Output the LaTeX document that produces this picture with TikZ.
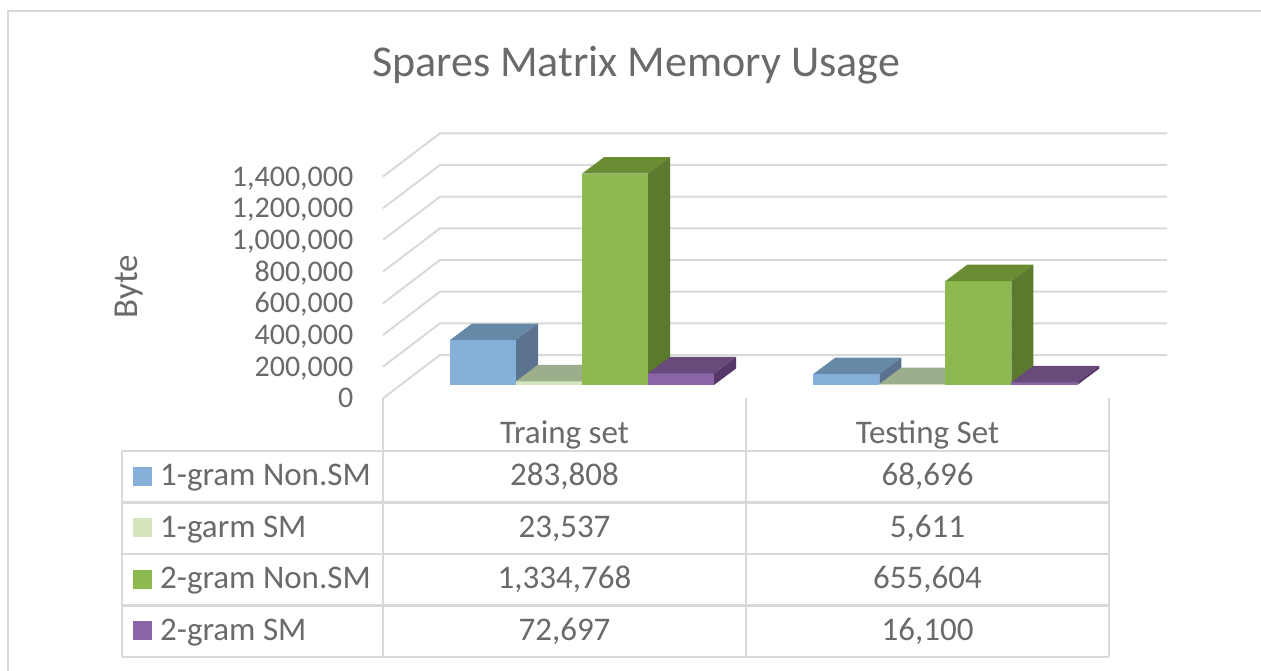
\documentclass[tikz,border=0pt]{standalone}
\usepackage{fontspec}
\setmainfont{Carlito}
\definecolor{txt}{HTML}{6A6A6A}
\definecolor{rule}{HTML}{D9D9D9}
\definecolor{bluF}{HTML}{84B0DA}\definecolor{bluT}{HTML}{6589A6}\definecolor{bluS}{HTML}{5B7290}
\definecolor{lgrF}{HTML}{D5E6BF}\definecolor{lgrT}{HTML}{9DAE8C}\definecolor{lgrS}{HTML}{8A9A7A}
\definecolor{grnF}{HTML}{8DBA50}\definecolor{grnT}{HTML}{6A8D34}\definecolor{grnS}{HTML}{5B7A2D}
\definecolor{purF}{HTML}{8A64A5}\definecolor{purT}{HTML}{684A7B}\definecolor{purS}{HTML}{553869}
% 3-D column: #1 left x of front face, #2 value in thousands, #3 colour prefix
\newcommand{\colbar}[3]{%
  \pgfmathsetmacro\hh{#2*0.15835}%
  \pgfmathsetmacro\yt{385-\hh}%
  \fill[#3F] (#1,385) rectangle (#1+66,\yt);
  \fill[#3T] (#1,\yt) -- (#1+66,\yt) -- (#1+88,\yt-16.5) -- (#1+22,\yt-16.5) -- cycle;
  \fill[#3S] (#1+66,385) -- (#1+66,\yt) -- (#1+88,\yt-16.5) -- (#1+88,368.5) -- cycle;
}
\begin{document}
\begin{tikzpicture}[x=1pt,y=-1pt,
  frameline/.style={draw=rule,line width=2pt},
  gridline/.style={draw=rule,line width=2pt},
  tabline/.style={draw=rule,line width=2.4pt},
  titletext/.style={text=txt,font=\fontsize{44}{50}\selectfont,inner sep=0pt},
  ticktext/.style={text=txt,font=\fontsize{30}{34}\selectfont,inner sep=0pt,anchor=base east},
  celltext/.style={text=txt,font=\fontsize{33}{38}\selectfont,inner sep=0pt,anchor=base},
  rowtext/.style={text=txt,font=\fontsize{33}{38}\selectfont,inner sep=0pt,anchor=base west},
  keybox/.style={minimum size=19pt,inner sep=0pt,outer sep=0pt}]
\useasboundingbox (0,0) rectangle (1261,671);
\fill[white] (0,0) rectangle (1261,671);
% chart frame
\draw[frameline] (8,671) -- (8,11) -- (1261,11);
% title
\node[titletext,anchor=base] (title) at (636,77) {Spares Matrix Memory Usage};
% side wall and back wall gridlines
\foreach \k in {0,...,7} {
  \pgfmathsetmacro\yf{398.3-\k*31.67}
  \draw[gridline] (383,\yf) -- (440,\yf-43.3) -- (1167,\yf-43.3);
}
% value axis labels
\node[ticktext] (t0) at (353.5,407.8) {0};
\node[ticktext] (t1) at (353.5,376.1) {200,000};
\node[ticktext] (t2) at (353.5,344.5) {400,000};
\node[ticktext] (t3) at (353.5,312.8) {600,000};
\node[ticktext] (t4) at (353.5,281.1) {800,000};
\node[ticktext] (t5) at (353.5,249.5) {1,000,000};
\node[ticktext] (t6) at (353.5,217.8) {1,200,000};
\node[ticktext] (t7) at (353.5,186.1) {1,400,000};
\node[text=txt,font=\fontsize{35}{40}\selectfont,inner sep=0pt,rotate=90,anchor=base] (ytitle) at (137.5,286.5) {Byte};
% columns, training set
\colbar{450}{283.808}{blu}
\colbar{516}{23.537}{lgr}
\colbar{582}{1334.768}{grn}
\colbar{648}{72.697}{pur}
% columns, testing set
\colbar{813.3}{68.696}{blu}
\colbar{879.3}{5.611}{lgr}
\colbar{945.3}{655.604}{grn}
\colbar{1011.3}{16.1}{pur}
% data table rules
\draw[tabline] (383,398.3) -- (383,657);
\draw[tabline] (746,398.3) -- (746,657);
\draw[tabline] (1109,398.3) -- (1109,657);
\draw[tabline] (122,451) -- (122,657);
\foreach \yy in {451,502.5,554,605.5,657} {
  \draw[tabline] (122,\yy) -- (1109,\yy);
}
% column headers
\node[celltext] (h1) at (564.5,443) {Traing set};
\node[celltext] (h2) at (927.5,443) {Testing Set};
% legend keys
\node[keybox,fill=bluF] (k1) at (142.5,476) {};
\node[keybox,fill=lgrF] (k2) at (142.5,527.5) {};
\node[keybox,fill=grnF] (k3) at (142.5,579) {};
\node[keybox,fill=purF] (k4) at (142.5,630.5) {};
% row labels
\node[rowtext] (r1) at (160,485.75) {1-gram Non.SM};
\node[rowtext] (r2) at (160,537.25) {1-garm SM};
\node[rowtext] (r3) at (160,588.75) {2-gram Non.SM};
\node[rowtext] (r4) at (160,640.25) {2-gram SM};
% values
\node[celltext] (a1) at (564.5,485.75) {283,808};
\node[celltext] (a2) at (564.5,537.25) {23,537};
\node[celltext] (a3) at (564.5,588.75) {1,334,768};
\node[celltext] (a4) at (564.5,640.25) {72,697};
\node[celltext] (b1) at (927.5,485.75) {68,696};
\node[celltext] (b2) at (927.5,537.25) {5,611};
\node[celltext] (b3) at (927.5,588.75) {655,604};
\node[celltext] (b4) at (927.5,640.25) {16,100};
\end{tikzpicture}
\end{document}
